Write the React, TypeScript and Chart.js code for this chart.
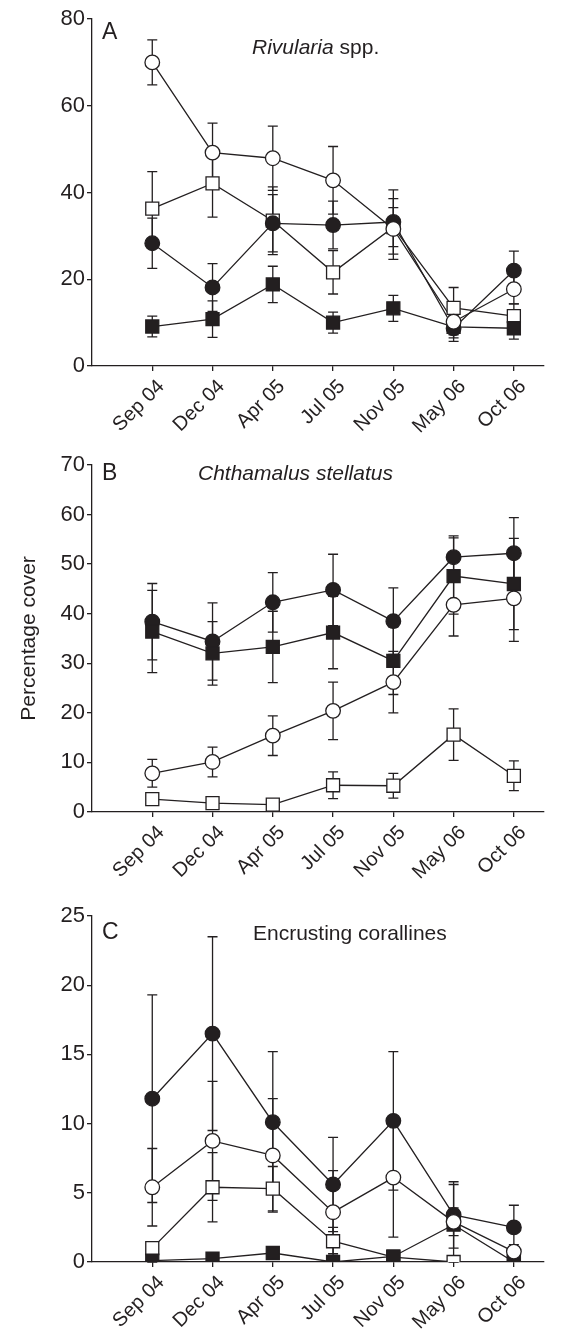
import React, { useEffect, useRef } from "react";
import { Chart, registerables } from "chart.js";

Chart.register(...registerables);

const INK = "#231f20";
const FONT = '"Liberation Sans", Arial, Helvetica, sans-serif';

const categories = ["Sep 04", "Dec 04", "Apr 05", "Jul 05", "Nov 05", "May 06", "Oct 06"];

// Panel A — Rivularia spp.
const aOpenCircle = [70.0, 49.2, 47.9, 42.8, 31.6, 10.2, 17.7];
const aOpenCircleErr = [5.2, 6.8, 7.4, 7.8, 7.0, 3.0, 3.4];
const aFilledCircle = [28.3, 18.1, 32.9, 32.5, 33.2, 8.7, 22.0];
const aFilledCircleErr = [5.8, 5.5, 6.6, 5.5, 7.4, 3.0, 4.5];
const aOpenSquare = [36.3, 42.1, 33.5, 21.6, 32.0, 13.4, 11.5];
const aOpenSquareErr = [8.5, 7.8, 7.8, 5.0, 4.5, 4.7, 2.8];
const aFilledSquare = [9.1, 10.8, 18.8, 10.0, 13.3, 9.0, 8.7];
const aFilledSquareErr = [2.4, 4.2, 4.2, 2.4, 3.0, 2.5, 2.5];

// Panel B — Chthamalus stellatus
const bOpenCircle = [7.8, 10.1, 15.4, 20.4, 26.2, 41.8, 43.1];
const bOpenCircleErr = [2.8, 3.0, 4.0, 5.8, 6.2, 6.3, 8.7];
const bFilledCircle = [38.4, 34.4, 42.3, 44.8, 38.5, 51.4, 52.2];
const bFilledCircleErr = [7.7, 7.8, 6.0, 7.2, 6.7, 4.3, 7.2];
const bOpenSquare = [2.6, 1.8, 1.5, 5.4, 5.3, 15.6, 7.3];
const bOpenSquareErr = [0.8, 0.6, 0.5, 2.7, 2.5, 5.2, 3.0];
const bFilledSquare = [36.4, 32.0, 33.3, 36.2, 30.5, 47.6, 46.0];
const bFilledSquareErr = [8.3, 6.4, 7.2, 7.3, 6.8, 7.7, 9.2];

// Panel C — Encrusting corallines
const cOpenCircle = [5.4, 8.75, 7.7, 3.6, 6.1, 2.9, 0.75];
const cOpenCircleErr = [2.8, 4.3, 4.1, 3.0, 4.3, 1.0, 0.5];
const cFilledCircle = [11.8, 16.5, 10.1, 5.6, 10.2, 3.4, 2.5];
const cFilledCircleErr = [7.5, 7.0, 5.1, 3.4, 5.0, 2.4, 1.6];
const cOpenSquare = [1.0, 5.4, 5.3, 1.5, 0.35, 0, 0];
const cOpenSquareErr = [0.3, 2.5, 1.6, 1.0, 0.2, 0, 0];
const cFilledSquare = [0.1, 0.25, 0.65, 0, 0.4, 2.7, 0];
const cFilledSquareErr = [0.1, 0.1, 0.1, 0, 0.1, 2.9, 0];

const aTicks = [0, 20, 40, 60, 80];
const bTicks = [0, 10, 20, 30, 40, 50, 60, 70];
const cTicks = [0, 5, 10, 15, 20, 25];

type Marker = "openCircle" | "filledCircle" | "openSquare" | "filledSquare";
type Series = { marker: Marker; values: number[]; errors: number[] };
type TextPart = { text: string; italic: boolean };

const markerStyle: Record<Marker, { style: string; fill: string; radius: number; order: number }> = {
  openCircle: { style: "circle", fill: "#ffffff", radius: 7.3, order: 0 },
  filledSquare: { style: "rect", fill: INK, radius: 9.2, order: 1 },
  filledCircle: { style: "circle", fill: INK, radius: 7.3, order: 2 },
  openSquare: { style: "rect", fill: "#ffffff", radius: 9.2, order: 3 },
};

type PanelProps = {
  top: number;
  height: number;
  padTop: number;
  xHeight: number;
  yTicks: number[];
  letter: string;
  letterDy: number;
  subtitle: TextPart[];
  subtitleX: number;
  subtitleDy: number;
  yTitle?: string;
  series: Series[];
};

function Panel(p: PanelProps) {
  const ref = useRef<HTMLCanvasElement | null>(null);
  useEffect(() => {
    const canvas = ref.current;
    if (!canvas) return;

    const decor = {
      id: "decor",
      beforeDatasetsDraw(chart: any) {
        const { ctx } = chart;
        const xs = chart.scales.x;
        const ys = chart.scales.y;
        ctx.save();
        ctx.strokeStyle = INK;
        ctx.lineWidth = 1.3;
        for (const s of p.series) {
          s.values.forEach((v, i) => {
            const e = s.errors[i];
            if (!e) return;
            const x = xs.getPixelForValue(i);
            const y1 = ys.getPixelForValue(v + e);
            const y2 = ys.getPixelForValue(Math.max(0, v - e));
            ctx.beginPath();
            ctx.moveTo(x, y1);
            ctx.lineTo(x, y2);
            ctx.moveTo(x - 5, y1);
            ctx.lineTo(x + 5, y1);
            ctx.moveTo(x - 5, y2);
            ctx.lineTo(x + 5, y2);
            ctx.stroke();
          });
        }
        ctx.restore();
      },
      afterDraw(chart: any) {
        const { ctx, chartArea } = chart;
        ctx.save();
        ctx.fillStyle = INK;
        ctx.textBaseline = "middle";
        ctx.textAlign = "left";
        ctx.font = `23px ${FONT}`;
        ctx.fillText(p.letter, chartArea.left + 10, chartArea.top + p.letterDy);
        let x = p.subtitleX;
        for (const part of p.subtitle) {
          ctx.font = `${part.italic ? "italic " : ""}21px ${FONT}`;
          ctx.fillText(part.text, x, chartArea.top + p.subtitleDy);
          x += ctx.measureText(part.text).width;
        }
        ctx.restore();
      },
    };

    const datasets: any[] = [];
    p.series.forEach((s, k) => {
      const m = markerStyle[s.marker];
      const data = s.values.map((v, i) => ({ x: i, y: v }));
      datasets.push({
        data,
        showLine: true,
        pointRadius: 0,
        borderColor: INK,
        borderWidth: 1.3,
        order: 10 + k,
      });
      datasets.push({
        data,
        showLine: false,
        pointStyle: m.style,
        pointRadius: m.radius,
        pointBackgroundColor: m.fill,
        pointBorderColor: INK,
        pointBorderWidth: 1.3,
        order: m.order,
      });
    });

    const yMin = p.yTicks[0];
    const yMax = p.yTicks[p.yTicks.length - 1];

    const chart = new Chart(canvas, {
      type: "scatter",
      data: { datasets },
      options: {
        animation: false,
        responsive: false,
        devicePixelRatio: 1,
        layout: { padding: { top: p.padTop, right: 19, left: 0, bottom: 0 } },
        plugins: { legend: { display: false }, tooltip: { enabled: false } },
        scales: {
          x: {
            type: "linear",
            min: -1,
            max: 6.5,
            afterBuildTicks: (scale: any) => {
              scale.ticks = categories.map((_, i) => ({ value: i }));
            },
            afterFit: (scale: any) => {
              scale.height = p.xHeight;
            },
            grid: { display: true, drawOnChartArea: false, drawTicks: true, tickLength: 5, color: INK, lineWidth: 1.3 },
            border: { display: true, color: INK, width: 1.3 },
            ticks: {
              autoSkip: false,
              minRotation: 45,
              maxRotation: 45,
              padding: 4,
              labelOffset: 9,
              color: INK,
              font: { family: FONT, size: 20 },
              callback: (value: any) => categories[Number(value)] ?? "",
            },
          },
          y: {
            type: "linear",
            min: yMin,
            max: yMax,
            afterBuildTicks: (scale: any) => {
              scale.ticks = p.yTicks.map((v) => ({ value: v }));
            },
            afterFit: (scale: any) => {
              scale.width = 92;
            },
            grid: { display: true, drawOnChartArea: false, drawTicks: true, tickLength: 5, color: INK, lineWidth: 1.3 },
            border: { display: true, color: INK, width: 1.3 },
            ticks: {
              padding: 2,
              color: INK,
              font: { family: FONT, size: 22 },
            },
            title: {
              display: !!p.yTitle,
              text: p.yTitle ?? "",
              color: INK,
              font: { family: FONT, size: 21 },
              padding: { top: 17, bottom: 0 },
            },
          },
        },
      },
      plugins: [decor],
    } as any);

    return () => chart.destroy();
  }, []);

  return (
    <canvas
      ref={ref}
      width={563}
      height={p.height}
      style={{ position: "absolute", left: 0, top: p.top, width: 563, height: p.height }}
    />
  );
}

export default function App() {
  return (
    <div style={{ position: "absolute", left: 0, top: 0, width: 563, height: 1334, background: "#fff" }}>
      <Panel
        top={0}
        height={446}
        padTop={19}
        xHeight={80}
        yTicks={aTicks}
        letter="A"
        letterDy={14}
        subtitle={[
          { text: "Rivularia", italic: true },
          { text: " spp.", italic: false },
        ]}
        subtitleX={252}
        subtitleDy={29}
        series={[
          { marker: "openCircle", values: aOpenCircle, errors: aOpenCircleErr },
          { marker: "filledCircle", values: aFilledCircle, errors: aFilledCircleErr },
          { marker: "openSquare", values: aOpenSquare, errors: aOpenSquareErr },
          { marker: "filledSquare", values: aFilledSquare, errors: aFilledSquareErr },
        ]}
      />
      <Panel
        top={446}
        height={446}
        padTop={19}
        xHeight={80}
        yTicks={bTicks}
        letter="B"
        letterDy={9}
        subtitle={[{ text: "Chthamalus stellatus", italic: true }]}
        subtitleX={198}
        subtitleDy={9}
        yTitle="Percentage cover"
        series={[
          { marker: "openCircle", values: bOpenCircle, errors: bOpenCircleErr },
          { marker: "filledCircle", values: bFilledCircle, errors: bFilledCircleErr },
          { marker: "openSquare", values: bOpenSquare, errors: bOpenSquareErr },
          { marker: "filledSquare", values: bFilledSquare, errors: bFilledSquareErr },
        ]}
      />
      <Panel
        top={892}
        height={442}
        padTop={24}
        xHeight={72}
        yTicks={cTicks}
        letter="C"
        letterDy={17}
        subtitle={[{ text: "Encrusting corallines", italic: false }]}
        subtitleX={253}
        subtitleDy={18}
        series={[
          { marker: "openCircle", values: cOpenCircle, errors: cOpenCircleErr },
          { marker: "filledCircle", values: cFilledCircle, errors: cFilledCircleErr },
          { marker: "openSquare", values: cOpenSquare, errors: cOpenSquareErr },
          { marker: "filledSquare", values: cFilledSquare, errors: cFilledSquareErr },
        ]}
      />
    </div>
  );
}
